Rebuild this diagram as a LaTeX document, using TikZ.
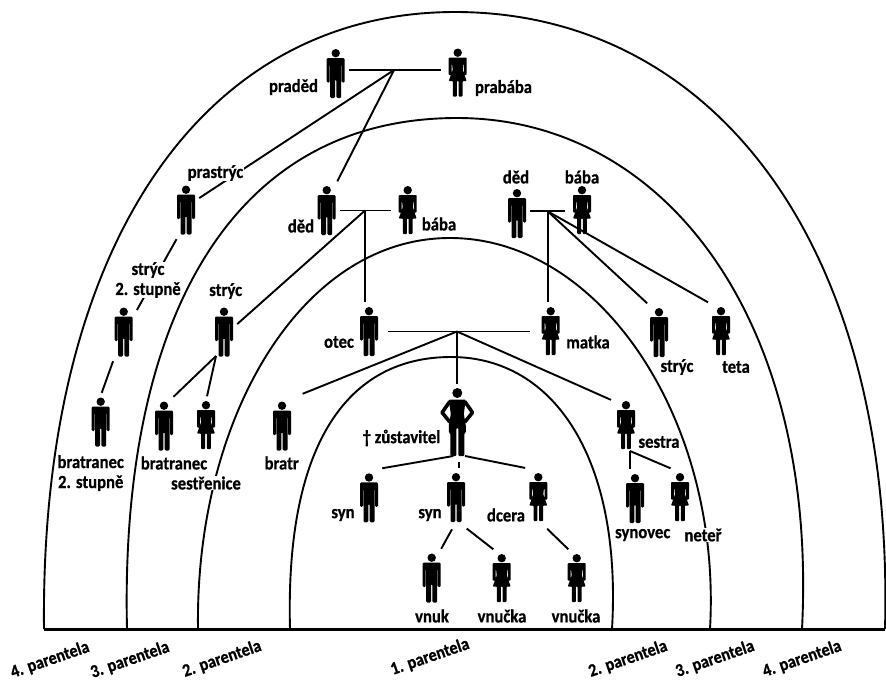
\documentclass[tikz,border=0pt]{standalone}
\usepackage{fontspec}
\setmainfont[FakeStretch=0.9,BoldFeatures={FakeBold=0.7}]{Carlito}
\tikzset{
    person/.style = {rectangle,
                    minimum width=26pt,
                    minimum height=58pt,
                    inner sep=0pt},
    man/.style =    {person,
                    path picture={
                        \fill (0,-20.3) circle (4.2);
                        \fill[rounded corners=1.2] (-9,9) -- (-9,-15.5) -- (9,-15.5) -- (9,9) -- (6,9) -- (6,-9) -- (5.5,-9)
                            -- (5.5,24.5) -- (0.7,24.5) -- (0.7,6) -- (-0.7,6) -- (-0.7,24.5) -- (-5.5,24.5)
                            -- (-5.5,-9) -- (-6,-9) -- (-6,9) -- cycle;
                    }},
    woman/.style =  {person,
                    path picture={
                        \fill (0,-20.3) circle (4.2);
                        \fill[rounded corners=0.8] (-9,2) -- (-9,-15.5) -- (9,-15.5) -- (9,2) -- (6.2,2) -- (6.2,-9) -- (5.6,-9)
                            -- (5,-3) -- (9,8) -- (4.8,8) -- (4.8,23.5) -- (0.9,23.5) -- (0.9,8) -- (-0.9,8)
                            -- (-0.9,23.5) -- (-4.8,23.5) -- (-4.8,8) -- (-9,8) -- (-5,-3) -- (-5.6,-9)
                            -- (-6.2,-9) -- (-6.2,2) -- cycle;
                    }},
    deceased/.style = {rectangle,
                    minimum width=38pt,
                    minimum height=76pt,
                    inner sep=0pt,
                    path picture={
                        \fill (0,-29) circle (5);
                        \fill[rounded corners=1] (-8.5,-22.5) -- (8.5,-22.5) -- (6.5,-8) -- (8.5,3) -- (8.5,11) -- (7,11)
                            -- (7,34) -- (1,34) -- (1,6) -- (-1,6) -- (-1,34) -- (-7,34) -- (-7,11) -- (-8.5,11)
                            -- (-8.5,3) -- (-6.5,-8) -- cycle;
                        \draw[line width=3.6pt,line join=round] (-7.5,-20.5) -- (-15.2,-9.5) -- (-7.5,0);
                        \draw[line width=3.6pt,line join=round] (7.5,-20.5) -- (15.2,-9.5) -- (7.5,0);
                    }},
    popis/.style =  {fill=white,
                    text=black,
                    inner sep=0.5pt,
                    align=center,
                    font=\fontsize{18.5}{20}\selectfont\bfseries},
    osa/.style =    {text=black,
                    inner sep=0pt,
                    rotate=19,
                    font=\fontsize{18}{20}\selectfont\bfseries},
    arc/.style =    {line width=1.9pt},
    link/.style =   {line width=1.9pt},
}

\begin{document}
\begin{tikzpicture}[x=1pt,y=-1pt]
    \useasboundingbox (0,0) rectangle (886,681);

    % parentely
    \draw[arc] (44,629) .. controls (40,250) and (200,12) .. (455,12)
               .. controls (710,12) and (895,240) .. (885,629);
    \draw[arc] (127,629) .. controls (120,330) and (225,118) .. (457,118)
               .. controls (665,118) and (818,320) .. (802,629);
    \draw[arc] (198,629) .. controls (195,420) and (300,238) .. (450,238)
               .. controls (600,238) and (722,420) .. (710,629);
    \draw[arc] (290,629) .. controls (285,440) and (350,357) .. (451,357)
               .. controls (555,357) and (622,460) .. (612,629);
    \draw[line width=2.4pt] (44,629.5) -- (885,629.5);

    % osoby
    \node[man]      (praded)   at (335.7,73.5)  {};
    \node[woman]    (prababa)  at (457.7,73)    {};
    \node[man]      (prastryc) at (186,210)     {};
    \node[man]      (dedL)     at (326.7,210.5) {};
    \node[woman]    (babaL)    at (407.7,210.5) {};
    \node[man]      (dedR)     at (517,213.5)   {};
    \node[woman]    (babaR)    at (582,210.5)   {};
    \node[man]      (stryc2)   at (123.7,332)   {};
    \node[man]      (strycL)   at (224,332)     {};
    \node[man]      (otec)     at (369,331.5)   {};
    \node[woman]    (matka)    at (550.7,331.5) {};
    \node[man]      (strycR)   at (659,332.5)   {};
    \node[woman]    (teta)     at (721,331.5)   {};
    \node[man]      (bratran2) at (100.7,422)   {};
    \node[man]      (bratran)  at (164,426)     {};
    \node[woman]    (sestren)  at (206,425.5)   {};
    \node[man]      (bratr)    at (282,426)     {};
    \node[deceased] (zust)     at (457.3,422)   {};
    \node[woman]    (sestra)   at (626,425.5)   {};
    \node[man]      (synL)     at (369,497.8)   {};
    \node[man]      (synM)     at (456,497.5)   {};
    \node[woman]    (dcera)    at (538.3,497.5) {};
    \node[man]      (synovec)  at (635,498.5)   {};
    \node[woman]    (neter)    at (680,497.5)   {};
    \node[man]      (vnuk)     at (431.7,578)   {};
    \node[woman]    (vnucka)   at (501.7,578.5) {};
    \node[woman]    (vnuckaR)  at (576.7,578.5) {};

    % rozcestí
    \coordinate (tPrad) at (394,70);
    \coordinate (tDedL) at (365,210.5);
    \coordinate (tDedR) at (547.7,211.3);
    \coordinate (tPar) at (457,331.5);
    \coordinate (tStryc) at (216,356);
    \coordinate (tSestra) at (630,451);
    \coordinate (tZust) at (459.3,462);
    \coordinate (tZustL) at (453.3,456);
    \coordinate (tZustR) at (465,456);

    % spojnice
    \draw[link,shorten >=4pt] (praded.east |- tPrad) -- (prababa.west |- tPrad);
    \draw[link] (tPrad) -- (dedL.70);
    \draw[link] (tPrad) -- (prastryc.42);
    \draw[link] (prastryc.252) -- (stryc2.59);
    \draw[link] (stryc2.250) -- (bratran2.88);
    \draw[link,shorten >=4pt] (dedL.east |- tDedL) -- (babaL.west |- tDedL);
    \draw[link] (tDedL) -- (tDedL |- otec.north);
    \draw[link] (tDedL) -- (strycL.31);
    \draw[link] (tStryc) -- (bratran.72);
    \draw[link] (tStryc) -- (sestren.88);
    \draw[link,shorten >=4pt] (dedR.east |- tDedR) -- (babaR.west |- tDedR);
    \draw[link] (tDedR) -- (tDedR |- matka.north);
    \draw[link] (tDedR) -- (strycR.112);
    \draw[link] (tDedR) -- (teta.114);
    \draw[link,shorten <=6pt,shorten >=8pt] (otec.east |- tPar) -- (matka.west |- tPar);
    \draw[link] (tPar) -- (tPar |- zust.north);
    \draw[link,shorten >=8pt] (tPar) -- (bratr.north east);
    \draw[link,shorten >=2pt] (tPar) -- (sestra.118);
    \draw[link] (tSestra) -- (tSestra |- synovec.north);
    \draw[link] (tSestra) -- (neter.108);
    \draw[link,shorten >=2pt] (tZustL) -- (synL.69);
    \draw[link,shorten >=2pt] (tZustR) -- (dcera.111);
    \draw[link] (tZust) -- (tZust |- synM.north);
    \draw[link,shorten <=3pt] (synM.265) -- (vnuk.72);
    \draw[link,shorten <=3pt] (synM.286) -- (vnucka.106);
    \draw[link,shorten <=3pt] (dcera.283) -- (vnuckaR.106);

    % popisy
    \node[popis] (lPraded)   at (293.5,87)  {praděd};
    \node[popis] (lPrababa)  at (503.5,88)  {prabába};
    \node[popis] (lPrastryc) at (215.5,173) {prastrýc};
    \node[popis] (lStryc2)   at (148,280)   {strýc\\2. stupně};
    \node[popis] (lStrycL)   at (225.7,291) {strýc};
    \node[popis] (lBratran2) at (90.7,473)  {bratranec\\2. stupně};
    \node[popis] (lBratran)  at (174,463)   {bratranec};
    \node[popis] (lSestren)  at (206,483)   {sestřenice};
    \node[popis] (lBratr)    at (281.7,463) {bratr};
    \node[popis] (lDedL)     at (301,226)   {děd};
    \node[popis] (lBabaL)    at (439,224)   {bába};
    \node[popis] (lDedR)     at (516,177)   {děd};
    \node[popis] (lBabaR)    at (582,177)   {bába};
    \node[popis] (lOtec)     at (339,342)   {otec};
    \node[popis] (lMatka)    at (588,342)   {matka};
    \node[popis] (lStrycR)   at (677,367)   {strýc};
    \node[popis] (lTeta)     at (736,367)   {teta};
    \node[popis] (lSestra)   at (659,442)   {sestra};
    \node[popis] (lSynovec)  at (642.7,535) {synovec};
    \node[popis] (lNeter)    at (703,535)   {neteř};
    \node[popis] (lZust)     at (401.5,438) {† zůstavitel};
    \node[popis] (lSynL)     at (343,515)   {syn};
    \node[popis] (lSynM)     at (430,515)   {syn};
    \node[popis] (lDcera)    at (506,515)   {dcera};
    \node[popis] (lVnuk)     at (432,616)   {vnuk};
    \node[popis] (lVnucka)   at (502,616)   {vnučka};
    \node[popis] (lVnuckaR)  at (576,616)   {vnučka};

    \node[osa] (p4L) at (50,660)  {4. parentela};
    \node[osa] (p3L) at (130,660) {3. parentela};
    \node[osa] (p2L) at (222,659) {2. parentela};
    \node[osa] (p1)  at (430,657) {1. parentela};
    \node[osa] (p2R) at (628,659) {2. parentela};
    \node[osa] (p3R) at (715,659) {3. parentela};
    \node[osa] (p4R) at (802,659) {4. parentela};
\end{tikzpicture}
\end{document}
